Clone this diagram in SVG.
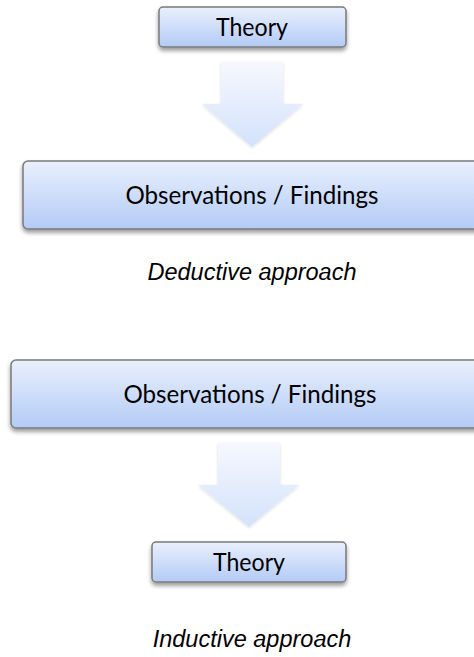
<svg xmlns="http://www.w3.org/2000/svg" width="474" height="657" viewBox="0 0 474 657">
<style>
.box{fill:url(#boxg);stroke:#7a7a7a;stroke-width:1.5;filter:url(#sh)}
.arr{fill:url(#arrg);filter:url(#ash)}
.lbl{font-family:Lato,"Open Sans","Liberation Sans",sans-serif;font-size:25px;fill:#000;text-anchor:middle}
.cap{font-family:"Liberation Sans",Arial,sans-serif;font-style:italic;font-size:23.5px;fill:#000;text-anchor:middle}
</style>
<defs>
<linearGradient id="boxg" x1="0" y1="0" x2="0" y2="1">
<stop offset="0" stop-color="#e9f0fd"/>
<stop offset="1" stop-color="#b3cbf6"/>
</linearGradient>
<linearGradient id="arrg" x1="0" y1="0" x2="0" y2="1">
<stop offset="0" stop-color="#f6f8fe"/>
<stop offset="1" stop-color="#d3e2fb"/>
</linearGradient>
<filter id="sh" x="-10%" y="-30%" width="120%" height="170%">
<feDropShadow dx="0" dy="3" stdDeviation="2" flood-color="#000" flood-opacity="0.4"/>
</filter>
<filter id="ash" x="-20%" y="-20%" width="140%" height="140%">
<feDropShadow dx="0" dy="1" stdDeviation="1.5" flood-color="#000" flood-opacity="0.15"/>
</filter>
</defs>
<g id="connectors">
<path class="arr" d="M221,62 H283 V104 H303 L252,147 L202,104 H221 Z"/>
<path class="arr" d="M218,443 H280 V485 H299 L249,527 L198,485 H218 Z"/>
</g>
<g id="theory1">
<rect class="box" x="159" y="7" width="187" height="40" rx="4"/>
<text class="lbl" x="252" y="36" textLength="72" lengthAdjust="spacingAndGlyphs">Theory</text>
</g>
<g id="obs1">
<rect class="box" x="23" y="161" width="470" height="68" rx="5"/>
<text class="lbl" x="252" y="204" textLength="253" lengthAdjust="spacingAndGlyphs">Observations / Findings</text>
</g>
<g id="deductive">
<text class="cap" x="252" y="280">Deductive approach</text>
</g>
<g id="obs2">
<rect class="box" x="11" y="360" width="480" height="68" rx="5"/>
<text class="lbl" x="250" y="403" textLength="253" lengthAdjust="spacingAndGlyphs">Observations / Findings</text>
</g>
<g id="theory2">
<rect class="box" x="152" y="542" width="194" height="40" rx="4"/>
<text class="lbl" x="249" y="571" textLength="72" lengthAdjust="spacingAndGlyphs">Theory</text>
</g>
<g id="inductive">
<text class="cap" x="252" y="647">Inductive approach</text>
</g>
</svg>
